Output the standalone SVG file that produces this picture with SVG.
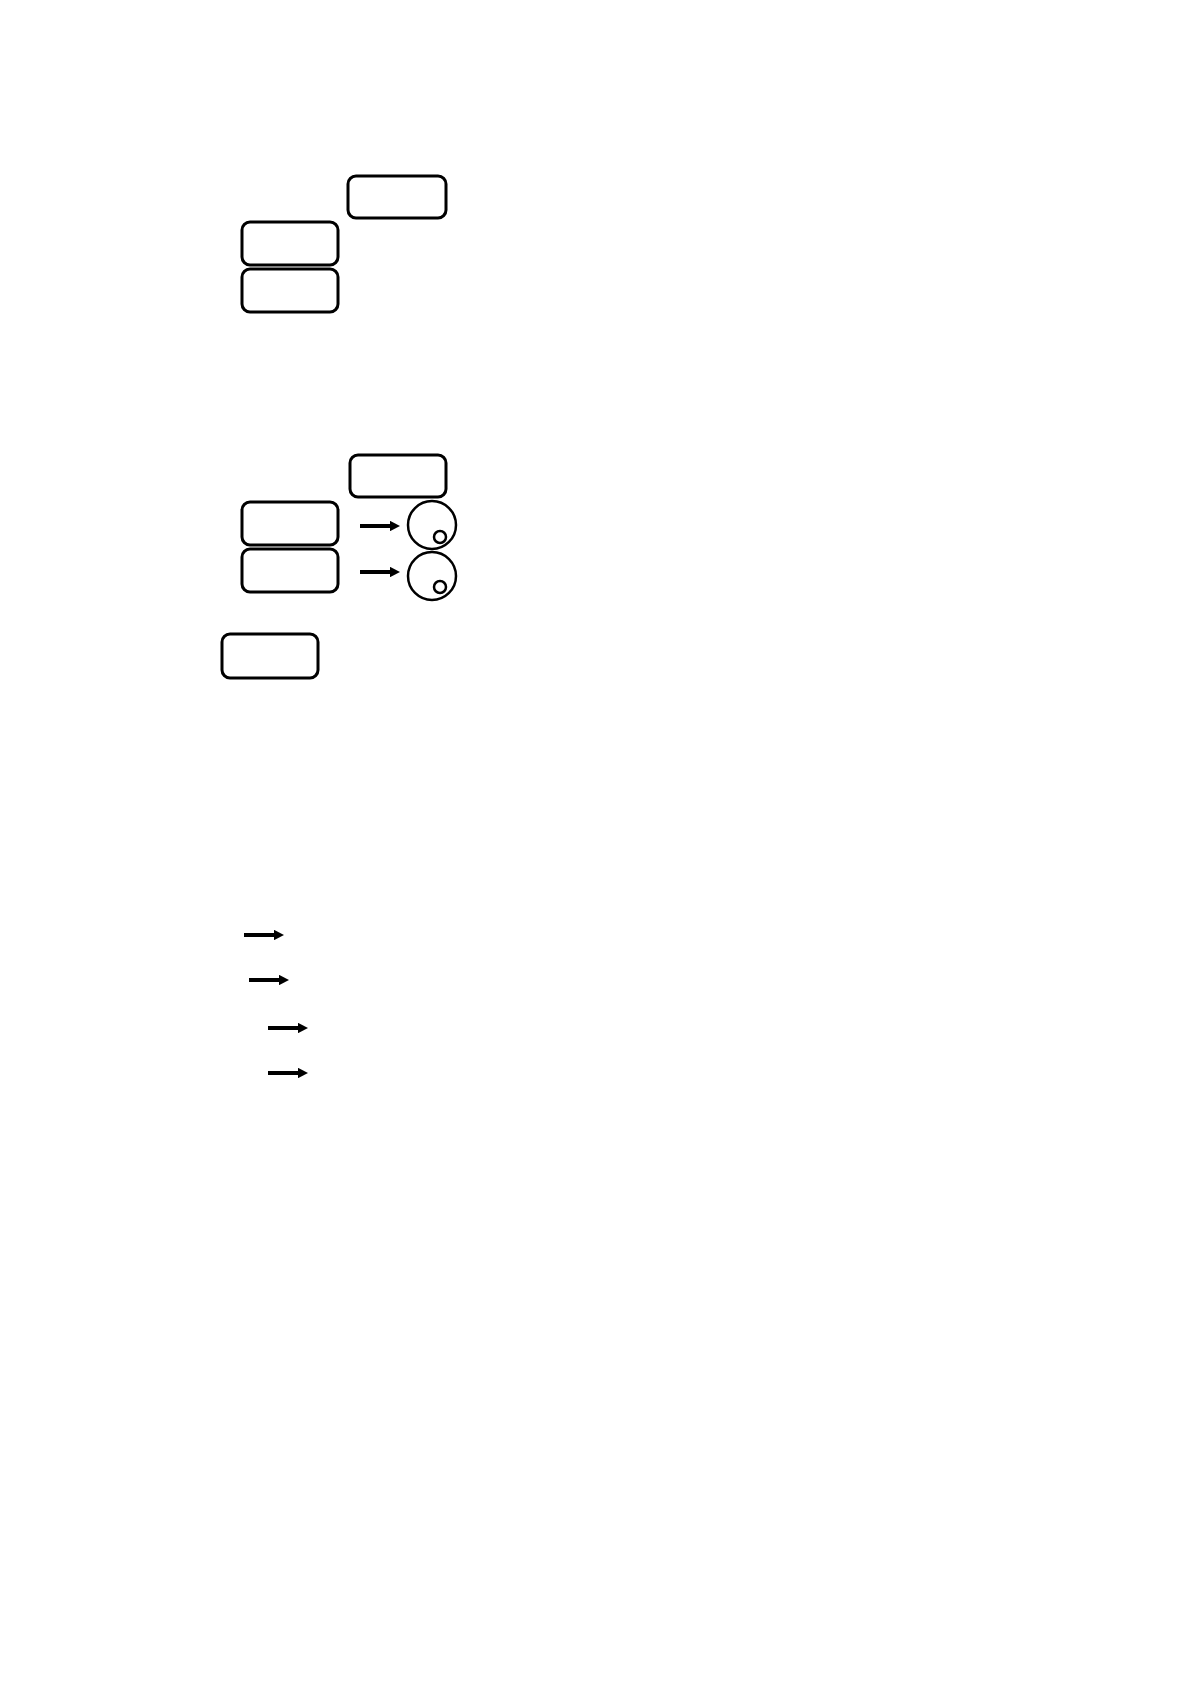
<svg xmlns="http://www.w3.org/2000/svg" width="1190" height="1684" viewBox="0 0 1190 1684">
<style>
.box{fill:#fff;stroke:#000;stroke-width:3}
.ring{fill:none;stroke:#000;stroke-width:2.5}
.conn{stroke:#000;stroke-width:4;fill:none}
</style>
<defs>
<marker id="ah" markerWidth="2.5" markerHeight="2.6" refX="0" refY="1.3" orient="auto" markerUnits="strokeWidth">
<path d="M0,0 L2.5,1.3 L0,2.6 Z" fill="#000"/>
</marker>
</defs>
<rect width="1190" height="1684" fill="#fff"/>
<g id="n1"><rect class="box" x="348" y="176" width="98" height="42" rx="8"/></g>
<g id="n2"><rect class="box" x="242" y="222" width="96" height="43" rx="8"/></g>
<g id="n3"><rect class="box" x="242" y="269" width="96" height="43" rx="8"/></g>
<g id="n4"><rect class="box" x="350" y="455" width="96" height="42" rx="8"/></g>
<g id="n5"><rect class="box" x="242" y="502" width="96" height="43" rx="8"/></g>
<g id="n6"><rect class="box" x="242" y="549" width="96" height="43" rx="8"/></g>
<g id="n7"><rect class="box" x="222" y="634" width="96" height="44" rx="8"/></g>
<g id="c1"><circle class="ring" cx="432" cy="525" r="24"/><circle class="ring" cx="440" cy="537" r="6"/></g>
<g id="c2"><circle class="ring" cx="432" cy="576" r="24"/><circle class="ring" cx="440" cy="587" r="6"/></g>
<g id="connectors">
<line class="conn" x1="360" y1="526" x2="390" y2="526" marker-end="url(#ah)"/>
<line class="conn" x1="360" y1="572" x2="390" y2="572" marker-end="url(#ah)"/>
<line class="conn" x1="244" y1="935" x2="274" y2="935" marker-end="url(#ah)"/>
<line class="conn" x1="249" y1="980" x2="279" y2="980" marker-end="url(#ah)"/>
<line class="conn" x1="268" y1="1028" x2="298" y2="1028" marker-end="url(#ah)"/>
<line class="conn" x1="268" y1="1073" x2="298" y2="1073" marker-end="url(#ah)"/>
</g>
</svg>
